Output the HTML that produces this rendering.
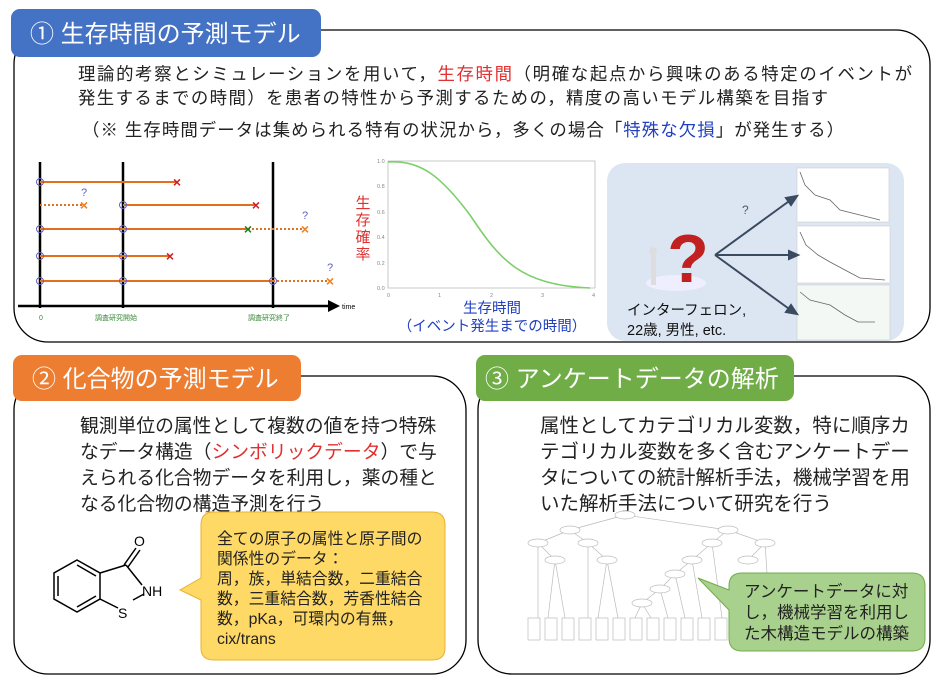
<!DOCTYPE html>
<html><head><meta charset="utf-8"><style>
html,body{margin:0;padding:0;background:#fff}
svg{display:block;font-family:"Liberation Sans","Noto Sans CJK JP",sans-serif}
</style></head><body>
<svg width="938" height="682" viewBox="0 0 938 682" xmlns="http://www.w3.org/2000/svg">
<!-- Panel 1 -->
<rect x="14" y="30" width="916" height="312" rx="34" fill="#fff" stroke="#000" stroke-width="1.3"/>
<rect x="11" y="9" width="310" height="48" rx="9" fill="#4472c4"/>
<text x="30" y="42" font-size="24" fill="#fff">① 生存時間の予測モデル</text>
<g font-size="17.4" fill="#222">
<text x="78" y="80" textLength="834" lengthAdjust="spacing">理論的考察とシミュレーションを用いて，<tspan fill="#e03030">生存時間</tspan>（明確な起点から興味のある特定のイベントが</text>
<text x="78" y="104" textLength="750" lengthAdjust="spacing">発生するまでの時間）を患者の特性から予測するための，精度の高いモデル構築を目指す</text>
<text x="82" y="136" textLength="762" lengthAdjust="spacing">（※ 生存時間データは集められる特有の状況から，多くの場合「<tspan fill="#2040c0">特殊な欠損</tspan>」が発生する）</text>
</g>
<!-- timeline chart -->
<g stroke="#000" stroke-width="2.5"><line x1="40" y1="162" x2="40" y2="308"/><line x1="123" y1="162" x2="123" y2="308"/><line x1="273" y1="162" x2="273" y2="308"/></g>
<line x1="18" y1="306" x2="330" y2="306" stroke="#000" stroke-width="2.5"/>
<polygon points="340,306 328,300 328,312" fill="#000"/>
<text x="342" y="309" font-size="7">time</text>
<g font-size="7" fill="#3a8a3a"><text x="39" y="320">0</text><text x="95" y="320">調査研究開始</text><text x="248" y="320">調査研究終了</text></g>
<g stroke="#e07020" stroke-width="2">
<line x1="40" y1="182" x2="177" y2="182"/>
<line x1="40" y1="205" x2="84" y2="205" stroke-dasharray="2,2"/><line x1="123" y1="205" x2="256" y2="205"/>
<line x1="40" y1="229" x2="248" y2="229"/><line x1="248" y1="229" x2="305" y2="229" stroke-dasharray="2,2"/>
<line x1="40" y1="256" x2="170" y2="256"/>
<line x1="40" y1="281" x2="273" y2="281"/><line x1="273" y1="281" x2="330" y2="281" stroke-dasharray="2,2"/>
</g>
<g fill="none" stroke="#6060c0" stroke-width="1"><circle cx="40" cy="182" r="3.5"/><circle cx="123" cy="205" r="3.5"/><circle cx="40" cy="229" r="3.5"/><circle cx="123" cy="229" r="3.5"/><circle cx="40" cy="256" r="3.5"/><circle cx="123" cy="256" r="3.5"/><circle cx="40" cy="281" r="3.5"/><circle cx="123" cy="281" r="3.5"/><circle cx="273" cy="281" r="3.5"/></g>
<g font-size="14" font-weight="bold" text-anchor="middle" dominant-baseline="central">
<text x="177" y="182" fill="#d02020">×</text><text x="84" y="205" fill="#f08020">×</text><text x="256" y="205" fill="#d02020">×</text>
<text x="248" y="229" fill="#208020">×</text><text x="305" y="229" fill="#f08020">×</text><text x="170" y="256" fill="#d02020">×</text><text x="330" y="281" fill="#f08020">×</text>
</g>
<g font-size="11" fill="#6060c0" text-anchor="middle"><text x="84" y="196">?</text><text x="305" y="219">?</text><text x="330" y="271">?</text></g>
<!-- survival curve -->
<rect x="388" y="161" width="207" height="127" fill="none" stroke="#bbb" stroke-width="0.8"/>
<g font-size="5.5" fill="#888"><text x="377" y="163">1.0</text><text x="377" y="188">0.8</text><text x="377" y="214">0.6</text><text x="377" y="239">0.4</text><text x="377" y="265">0.2</text><text x="377" y="290">0.0</text>
<text x="387" y="297">0</text><text x="438" y="297">1</text><text x="490" y="297">2</text><text x="541" y="297">3</text><text x="592" y="297">4</text></g>
<path d="M388,162 C420,160 440,175 470,215 C500,260 520,285 590,288" fill="none" stroke="#7ccf6a" stroke-width="1.6"/>
<g font-size="15" fill="#e03030" text-anchor="middle"><text x="363" y="208">生</text><text x="363" y="225">存</text><text x="363" y="242">確</text><text x="363" y="259">率</text></g>
<text x="492" y="313" font-size="14.5" fill="#2040c0" text-anchor="middle">生存時間</text>
<text x="492" y="331" font-size="14.5" fill="#2040c0" text-anchor="middle">（イベント発生までの時間）</text>
<!-- right box -->
<rect x="607" y="163" width="297" height="178" rx="18" fill="#dce6f2"/>
<g fill="#fff" stroke="#ccc" stroke-width="0.6"><rect x="797" y="168" width="92" height="54"/><rect x="797" y="226" width="93" height="57"/><rect x="797" y="285" width="93" height="55" fill="#f4f8f4"/></g>
<g fill="none" stroke="#666" stroke-width="0.8">
<path d="M800,172 L805,185 815,195 830,200 840,210 860,215 880,220"/>
<path d="M800,232 L806,245 818,255 830,262 845,270 860,278 885,280"/>
<path d="M800,292 L810,300 830,305 845,315 858,322 875,322"/>
</g>
<g stroke="#3a4a60" stroke-width="2" fill="#3a4a60">
<line x1="715" y1="255" x2="792" y2="199"/><line x1="715" y1="255" x2="792" y2="255"/><line x1="715" y1="255" x2="792" y2="311"/>
<polygon points="797,196 786,198 791,205"/><polygon points="798,255 789,251 789,259"/><polygon points="797,314 791,305 786,312"/>
</g>
<text x="742" y="214" font-size="12" fill="#556">?</text>
<ellipse cx="676" cy="283" rx="30" ry="8" fill="#eef"/>
<text x="688" y="282" font-size="68" font-weight="bold" fill="#c02020" text-anchor="middle">?</text>
<rect x="651" y="255" width="5" height="30" fill="#ddd"/><circle cx="653" cy="251" r="4" fill="#ddd"/>
<text x="627" y="315" font-size="14.5" fill="#111">インターフェロン,</text>
<text x="627" y="335" font-size="14.5" fill="#111">22歳, 男性, etc.</text>

<!-- Panel 2 -->
<rect x="14" y="376" width="452" height="298" rx="34" fill="#fff" stroke="#000" stroke-width="1.3"/>
<rect x="13" y="355" width="288" height="46" rx="9" fill="#ed7d31"/>
<text x="32" y="387" font-size="24" fill="#fff">② 化合物の予測モデル</text>
<g font-size="18.8" fill="#222">
<text x="80" y="432">観測単位の属性として複数の値を持つ特殊</text>
<text x="80" y="458">なデータ構造（<tspan fill="#e03030">シンボリックデータ</tspan>）で与</text>
<text x="80" y="484">えられる化合物データを利用し，薬の種と</text>
<text x="80" y="510">なる化合物の構造予測を行う</text>
</g>
<path d="M205,512 H432 Q445,512 445,525 V648 Q445,660 432,660 H214 Q201,660 201,648 V600 L180,590 L201,578 V525 Q201,512 214,512 Z" fill="#ffd966" stroke="#e8b030" stroke-width="1"/>
<g font-size="15.8" fill="#222">
<text x="217" y="544">全ての原子の属性と原子間の</text>
<text x="217" y="564">関係性のデータ：</text>
<text x="217" y="584">周，族，単結合数，二重結合</text>
<text x="217" y="604">数，三重結合数，芳香性結合</text>
<text x="217" y="624">数，pKa，可環内の有無，</text>
<text x="217" y="644">cix/trans</text>
</g>
<!-- molecule -->
<g stroke="#000" stroke-width="1.5" fill="none">
<polygon points="77,560 100,573 100,599 77,612 54,599 54,573"/>
<line x1="58" y1="576" x2="58" y2="596"/><line x1="77" y1="565" x2="96" y2="576"/><line x1="77" y1="607" x2="96" y2="596"/>
<line x1="100" y1="573" x2="126" y2="565"/><line x1="126" y1="565" x2="142" y2="585"/><line x1="100" y1="599" x2="118" y2="608"/><line x1="133" y1="600" x2="144" y2="594"/>
<line x1="124" y1="565" x2="136" y2="548"/><line x1="128" y1="567" x2="140" y2="550"/>
</g>
<g font-size="14" fill="#000"><text x="134" y="546">O</text><text x="142" y="596">NH</text><text x="118" y="618">S</text></g>

<!-- Panel 3 -->
<rect x="478" y="376" width="452" height="298" rx="34" fill="#fff" stroke="#000" stroke-width="1.3"/>
<rect x="476" y="355" width="318" height="46" rx="9" fill="#70ad47"/>
<text x="485" y="387" font-size="24" fill="#fff">③ アンケートデータの解析</text>
<g font-size="19.5" fill="#222">
<text x="540" y="432">属性としてカテゴリカル変数，特に順序カ</text>
<text x="540" y="458">テゴリカル変数を多く含むアンケートデー</text>
<text x="540" y="484">タについての統計解析手法，機械学習を用</text>
<text x="540" y="510">いた解析手法について研究を行う</text>
</g>
<!-- tree -->
<g stroke="#bbb" stroke-width="0.7" fill="#fff">
<line x1="625" y1="515" x2="570" y2="530"/><line x1="625" y1="515" x2="728" y2="530"/>
<line x1="570" y1="530" x2="538" y2="543"/><line x1="570" y1="530" x2="588" y2="543"/>
<line x1="728" y1="530" x2="712" y2="543"/><line x1="728" y1="530" x2="765" y2="543"/>
<line x1="538" y1="543" x2="555" y2="560"/><line x1="588" y1="543" x2="607" y2="560"/>
<line x1="712" y1="543" x2="692" y2="560"/><line x1="765" y1="543" x2="748" y2="560"/>
<line x1="692" y1="560" x2="675" y2="574"/><line x1="675" y1="574" x2="660" y2="589"/><line x1="660" y1="589" x2="642" y2="603"/>
<g fill="none"><path d="M538,543 V618 M555,560 L548,618 M555,560 L565,618 M588,543 V618 M607,560 L598,618 M607,560 L618,618 M642,603 L635,618 M642,603 L651,618 M660,589 L668,618 M675,574 L685,618 M692,560 L702,618 M712,543 L722,618 M765,543 L770,618"/></g>
<ellipse cx="625" cy="515" rx="10" ry="4"/><ellipse cx="570" cy="530" rx="10" ry="4"/><ellipse cx="728" cy="530" rx="10" ry="4"/>
<ellipse cx="538" cy="543" rx="10" ry="4"/><ellipse cx="588" cy="543" rx="10" ry="4"/><ellipse cx="712" cy="543" rx="10" ry="4"/><ellipse cx="765" cy="543" rx="10" ry="4"/>
<ellipse cx="555" cy="560" rx="10" ry="4"/><ellipse cx="607" cy="560" rx="10" ry="4"/><ellipse cx="692" cy="560" rx="10" ry="4"/><ellipse cx="748" cy="560" rx="10" ry="4"/>
<ellipse cx="675" cy="574" rx="10" ry="4"/><ellipse cx="660" cy="589" rx="10" ry="4"/><ellipse cx="642" cy="603" rx="10" ry="4"/>
<rect x="528" y="618" width="12" height="22"/><rect x="545" y="618" width="12" height="22"/><rect x="562" y="618" width="12" height="22"/><rect x="579" y="618" width="12" height="22"/><rect x="596" y="618" width="12" height="22"/><rect x="613" y="618" width="12" height="22"/><rect x="630" y="618" width="12" height="22"/><rect x="647" y="618" width="12" height="22"/><rect x="664" y="618" width="12" height="22"/><rect x="681" y="618" width="12" height="22"/><rect x="698" y="618" width="12" height="22"/><rect x="715" y="618" width="12" height="22"/>
</g>
<path d="M742,573 H912 Q925,573 925,586 V638 Q925,651 912,651 H742 Q729,651 729,638 V610 L698,578 L729,590 V586 Q729,573 742,573 Z" fill="#a9d18e" stroke="#70ad47" stroke-width="1"/>
<g font-size="16.5" fill="#222"><text x="744" y="597">アンケートデータに対</text><text x="744" y="618">し，機械学習を利用し</text><text x="744" y="639">た木構造モデルの構築</text></g>
</svg>
</body></html>
